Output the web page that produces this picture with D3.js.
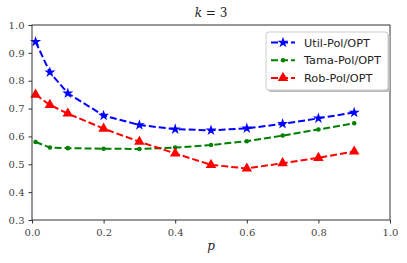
<!DOCTYPE html>
<html lang="en">
  <head>
    <meta charset="UTF-8" />
    <title>k = 3</title>
    <script src="https://d3js.org/d3.v7.min.js"></script>
    <style>
      body { margin: 0; background: #fff; }
      .legend text { font-family: 'DejaVu Sans', sans-serif; font-size: 11.3px; fill: #222; }
    </style>
  </head>
  <body>
    <div id="chart"></div>
    <script>
      // data
      const pValues = [0.01, 0.05, 0.1, 0.2, 0.3, 0.4, 0.5, 0.6, 0.7, 0.8, 0.9];
      const utilPol = [0.94, 0.83, 0.755, 0.675, 0.641, 0.626, 0.622, 0.629, 0.645, 0.665, 0.686];
      const tamaPol = [0.58, 0.56, 0.558, 0.556, 0.555, 0.56, 0.569, 0.583, 0.603, 0.625, 0.647];
      const robPol = [0.75, 0.713, 0.682, 0.628, 0.581, 0.539, 0.498, 0.485, 0.504, 0.523, 0.546];
      const seriesNames = ['Util-Pol/OPT', 'Tama-Pol/OPT', 'Rob-Pol/OPT'];
      const xTicks = [0, 0.2, 0.4, 0.6, 0.8, 1.0];
      const yTicks = [0.3, 0.4, 0.5, 0.6, 0.7, 0.8, 0.9, 1.0];

      const serif = "'DejaVu Serif', 'Liberation Serif', serif";
      const W = 407, H = 263;
      const margin = { top: 25, right: 17, bottom: 43, left: 32 };
      const width = W - margin.left - margin.right;
      const height = H - margin.top - margin.bottom;

      const svg = d3.select('#chart').append('svg')
        .attr('width', W).attr('height', H);
      const g = svg.append('g')
        .attr('transform', `translate(${margin.left},${margin.top})`);

      const x = d3.scaleLinear().domain([0, 1]).range([0, width]);
      const y = d3.scaleLinear().domain([0.3, 1.0]).range([height, 0]);

      // axes
      const xAxis = g.append('g')
        .attr('transform', `translate(0,${height})`)
        .call(d3.axisBottom(x).tickValues(xTicks).tickFormat(d3.format('.1f')).tickSize(3.5).tickPadding(5));
      const yAxis = g.append('g')
        .call(d3.axisLeft(y).tickValues(yTicks).tickFormat(d3.format('.1f')).tickSize(3.5).tickPadding(4));
      [xAxis, yAxis].forEach(a => {
        a.select('.domain').remove();
        a.selectAll('line').attr('stroke', '#333');
        a.selectAll('text')
          .style('font-family', serif)
          .style('font-size', '10px')
          .attr('fill', '#444');
      });

      const series = [
        { name: seriesNames[0], values: utilPol, color: '#0000ff', marker: d3.symbolStar, size: 38 },
        { name: seriesNames[1], values: tamaPol, color: '#008000', marker: d3.symbolCircle, size: 16 },
        { name: seriesNames[2], values: robPol, color: '#ff0000', marker: d3.symbolTriangle, size: 48 }
      ];

      const line = d3.line()
        .x((d, i) => x(pValues[i]))
        .y(d => y(d));

      series.forEach(s => {
        g.append('path')
          .datum(s.values)
          .attr('d', line)
          .attr('fill', 'none')
          .attr('stroke', s.color)
          .attr('stroke-width', 2)
          .attr('stroke-dasharray', '7,3');
        g.selectAll(null)
          .data(s.values)
          .enter()
          .append('path')
          .attr('d', d3.symbol().type(s.marker).size(s.size))
          .attr('transform', (d, i) => `translate(${x(pValues[i])},${y(d)})`)
          .attr('fill', s.color);
      });

      // frame
      g.append('rect')
        .attr('width', width).attr('height', height)
        .attr('fill', 'none').attr('stroke', '#333').attr('stroke-width', 1);

      // title
      const title = svg.append('text')
        .attr('x', margin.left + width / 2).attr('y', 17)
        .attr('text-anchor', 'middle')
        .style('font-family', serif)
        .style('font-size', '12px')
        .attr('fill', '#222');
      title.append('tspan').style('font-style', 'italic').text('k');
      title.append('tspan').text(' = 3');

      // x label
      svg.append('text')
        .attr('x', margin.left + width / 2).attr('y', 250)
        .attr('text-anchor', 'middle')
        .style('font-family', serif)
        .style('font-style', 'italic')
        .style('font-size', '12px')
        .attr('fill', '#222')
        .text('p');

      // legend
      const lg = svg.append('g').attr('class', 'legend')
        .attr('transform', 'translate(266,32)');
      lg.append('rect')
        .attr('x', 2).attr('y', 2).attr('width', 122).attr('height', 58)
        .attr('rx', 3).attr('fill', '#bbb');
      lg.append('rect')
        .attr('width', 122).attr('height', 58).attr('rx', 3)
        .attr('fill', '#fff').attr('stroke', '#ccc').attr('stroke-width', 1);
      series.forEach((s, i) => {
        const yy = 10.5 + i * 17.7;
        lg.append('line')
          .attr('x1', 5).attr('x2', 29).attr('y1', yy).attr('y2', yy)
          .attr('stroke', s.color).attr('stroke-width', 2)
          .attr('stroke-dasharray', '7,3');
        lg.append('path')
          .attr('d', d3.symbol().type(s.marker).size(s.size))
          .attr('transform', `translate(17,${yy})`)
          .attr('fill', s.color);
        lg.append('text')
          .attr('x', 38).attr('y', yy + 4)
          .text(s.name);
      });
    </script>
  </body>
</html>
